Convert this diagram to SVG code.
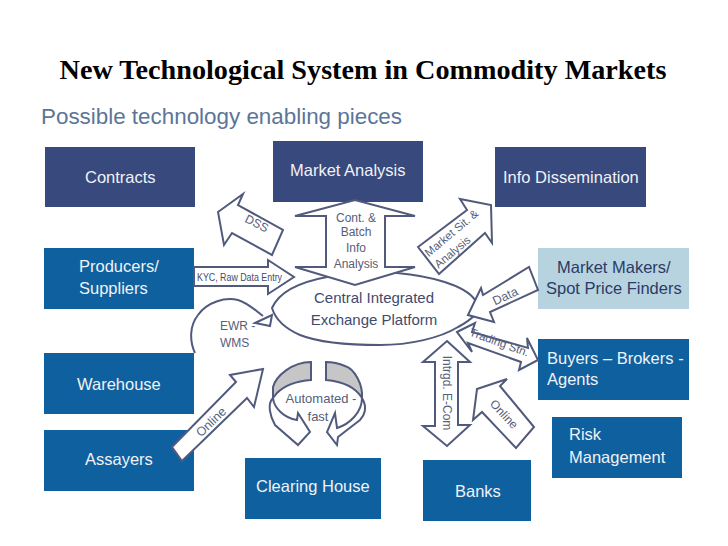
<svg xmlns="http://www.w3.org/2000/svg" width="728" height="546" viewBox="0 0 728 546">
<style>
text{font-family:"Liberation Sans",Arial,sans-serif}
.b{fill:#0f609f}.n{fill:#37497d}.l{fill:#b7d3e0}
.w{fill:#f0f2f6;font-size:16.5px}
.d{fill:#2b3b66;font-size:16.5px}
.a{fill:#fff;stroke:#515a7d;stroke-width:2;stroke-linejoin:miter}
.o{fill:none;stroke:#515a7d;stroke-width:2}
.g{fill:#c6c6c6;stroke:#515a7d;stroke-width:2}
.t{fill:#565e7a;font-size:12px;text-anchor:middle}
.c{fill:#3f4b6e;font-size:15px;text-anchor:middle}
</style>
<rect width="728" height="546" fill="#fff"/>
<text x="363" y="79" text-anchor="middle" style="font-family:'Liberation Serif',serif;font-weight:bold;font-size:28.2px;fill:#000">New Technological System in Commodity Markets</text>
<text x="41" y="124" style="font-size:22.4px;fill:#5b7598">Possible technology enabling pieces</text>

<g id="contracts"><rect class="n" x="45" y="147" width="150" height="60"/><text class="w" x="85" y="183">Contracts</text></g>
<g id="market-analysis"><rect class="n" x="273" y="141" width="150" height="61"/><text class="w" x="290" y="176">Market Analysis</text></g>
<g id="info"><rect class="n" x="495" y="147" width="151" height="60"/><text class="w" x="503" y="183">Info Dissemination</text></g>
<g id="producers"><rect class="b" x="44" y="248" width="150" height="61"/><text class="w" x="79" y="272">Producers/</text><text class="w" x="79" y="294">Suppliers</text></g>
<g id="market-makers"><rect class="l" x="538" y="248" width="151" height="61"/><text class="d" x="557" y="273">Market Makers/</text><text class="d" x="546" y="294">Spot Price Finders</text></g>
<g id="buyers"><rect class="b" x="538" y="339" width="151" height="61"/><text class="w" x="547" y="364">Buyers – Brokers -</text><text class="w" x="547" y="385">Agents</text></g>
<g id="warehouse"><rect class="b" x="44" y="353" width="150" height="61"/><text class="w" x="77" y="390">Warehouse</text></g>
<g id="assayers"><rect class="b" x="44" y="430" width="150" height="61"/><text class="w" x="85" y="465">Assayers</text></g>
<g id="risk"><rect class="b" x="552" y="417" width="130" height="61"/><text class="w" x="569" y="440">Risk</text><text class="w" x="569" y="463">Management</text></g>
<g id="clearing"><rect class="b" x="245" y="458" width="136" height="61"/><text class="w" x="256" y="492">Clearing House</text></g>
<g id="banks"><rect class="b" x="423" y="460" width="108" height="61"/><text class="w" x="455" y="497">Banks</text></g>

<g id="connectors">
<path class="a" d="M218 212L243 194L238 205L283 230L272 255L232 233L224 245Z"/>
<text class="t" transform="translate(255 227) rotate(27)">DSS</text>
<path class="a" d="M194 267H268V260L294 277L268 294V286H194Z"/>
<text x="197" y="281" class="t" style="font-size:10.5px;text-anchor:start;fill:#3f4b6e" textLength="85" lengthAdjust="spacingAndGlyphs">KYC, Raw Data Entry</text>
<path class="o" d="M327 277C300 282 279 292 272 308C275 318 284 328 300 335C320 343 350 345 380 345C410 345 440 338 458 327C466 323 472 318 476 314"/>
<path class="o" d="M327 277C345 272 375 271 397 273C430 276 465 285 475 300"/>
<path class="a" d="M295 216L355 200L415 216H385V267H415L355 285L295 267H326V216Z"/>
<text class="t" x="356" y="222">Cont. &amp;</text><text class="t" x="356" y="236">Batch</text><text class="t" x="356" y="252">Info</text><text class="t" x="356" y="268">Analysis</text>
<path class="a" d="M418 247L467 210L460 199L491 205L492 243L485 233L439 274Z"/>
<text class="t" style="font-size:11.5px" transform="translate(454 236) rotate(-40)">Market Sit. &amp;</text>
<text class="t" style="font-size:11.5px" transform="translate(455 255) rotate(-40)">Analysis</text>
<text class="c" x="374" y="303">Central Integrated</text><text class="c" x="374" y="325">Exchange Platform</text>
<path class="a" d="M468 315L481 288L483 295L529 267L538 290L490 312L494 322Z"/>
<text class="t" style="font-size:12.5px" transform="translate(507 300) rotate(-25)">Data</text>
<path class="a" d="M457 332L475 323L472 332L528 348L527 338L538 360L519 370L521 362L468 343L472 352Z"/>
<text class="t" style="font-size:11.5px" transform="translate(498 346) rotate(20)">Trading Stn.</text>
<path class="a" d="M447 341L470 362H458V425H470L447 446L423 426H435V362H423Z"/>
<text class="t" transform="translate(443 393) rotate(90)">Intrgd. E-Com</text>
<path class="a" d="M477 389L507 379L500 386L534 427L516 448L482 412L473 420Z"/>
<text class="t" style="font-size:12px" transform="translate(501 417) rotate(47)">Online</text>
<path class="a" d="M172 447L236 382L230 375L263 369L254 407L247 398L182 461Z"/>
<text class="t" style="font-size:12.5px" transform="translate(214 425) rotate(-44)">Online</text>
<path class="o" d="M195 353C189 340 190 325 198 315C207 302 225 297 238 300C248 303 256 311 263 316"/>
<path class="a" d="M255 323L272 315L270 326Z"/>
<text class="t" x="220" y="330" style="font-size:12px;text-anchor:start">EWR -</text><text class="t" x="220" y="347" style="font-size:12px;text-anchor:start">WMS</text>
<path class="g" d="M311 362V380C298 381 285 385 277 393L273 398V387C276 376 292 362 311 362Z"/>
<path class="g" d="M326 362V380C338 381 354 385 362 398C363 385 355 369 345 366C338 363 332 362 326 362Z"/>
<path class="a" d="M273 398C267 404 270 416 275 425L298 445L310 432L298 413L297 420C284 418 274 408 273 398Z"/>
<path class="a" d="M362 398C368 408 364 416 360 420L338 437L337 445L327 432L335 413L337 428C350 424 362 412 362 398Z"/>
<text class="t" x="321" y="403" style="font-size:13px">Automated -</text><text class="t" x="318" y="421" style="font-size:13px">fast</text>
</g>
</svg>
